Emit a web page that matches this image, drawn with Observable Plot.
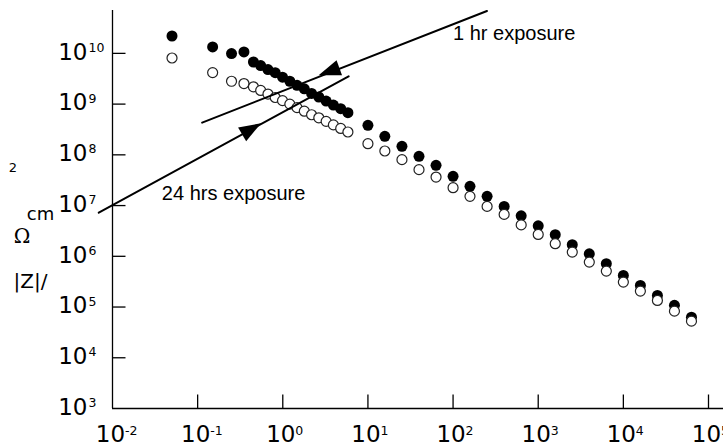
<!DOCTYPE html>
<html><head><meta charset="utf-8">
<script src="https://cdn.jsdelivr.net/npm/d3@7"></script>
<script src="https://cdn.jsdelivr.net/npm/@observablehq/plot@0.6"></script>
<style>body{margin:0;background:#fff;} svg{display:block;}</style>
</head><body><div id="chart"></div>
<script>
// Frequency (Hz)
const freq = [0.05, 0.15, 0.25, 0.35, 0.452, 0.55, 0.67, 0.815, 0.993, 1.21, 1.47, 1.79, 2.18, 2.65, 3.23, 3.93, 4.79, 5.82,
  10, 15.8, 25.1, 39.8, 63.1, 100, 158, 251, 398, 631, 1000, 1585, 2512, 3981, 6310, 10000, 15850, 25120, 39810, 63100];
// |Z| (ohm cm2), 1 hr exposure (filled)
const zFilled = [2.20e10, 1.34e10, 9.9e9, 1.07e10, 6.76e9, 5.75e9, 4.79e9, 4.17e9, 3.39e9, 2.82e9, 2.34e9, 2.00e9, 1.62e9, 1.38e9, 1.15e9, 9.55e8, 8.13e8, 6.76e8,
  3.82e8, 2.32e8, 1.47e8, 9.33e7, 6.21e7, 3.77e7, 2.39e7, 1.52e7, 9.64e6, 6.27e6, 3.98e6, 2.67e6, 1.69e6, 1.12e6, 7.14e5, 4.20e5, 2.67e5, 1.69e5, 1.08e5, 6.32e4];
// |Z| (ohm cm2), 24 hrs exposure (open)
const zOpen = [8.11e9, 4.18e9, 2.82e9, 2.54e9, 2.19e9, 1.86e9, 1.58e9, 1.35e9, 1.17e9, 1.00e9, 8.51e8, 7.24e8, 6.17e8, 5.37e8, 4.57e8, 3.89e8, 3.31e8, 2.82e8,
  1.66e8, 1.19e8, 8.04e7, 5.11e7, 3.65e7, 2.25e7, 1.52e7, 9.64e6, 6.70e6, 4.16e6, 2.70e6, 1.77e6, 1.21e6, 7.69e5, 5.11e5, 3.10e5, 2.06e5, 1.35e5, 8.30e4, 5.27e4];

const xTicks = [1e-2, 1e-1, 1e0, 1e1, 1e2, 1e3, 1e4, 1e5];
const xExp = ["-2", "-1", "0", "1", "2", "3", "4", "5"];
const yTicks = [1e3, 1e4, 1e5, 1e6, 1e7, 1e8, 1e9, 1e10];
const yExp = ["3", "4", "5", "6", "7", "8", "9", "10"];

// annotation lines (pointer lines)
const line1Hz = [0.113, 250];
const line1Z = [4.32e8, 6.85e10];
const line2Hz = [0.0069, 5.93];
const line2Z = [7.24e6, 3.53e9];
const arrowHz = [4.61, 0.333];
const arrowZ = [5.2e9, 2.54e8];
const arrowAngle = [250, 59.7];
const labels = ["1 hr exposure", "24 hrs exposure"];
const labelHz = [100, 0.038];
const labelZ = [2.49e10, 1.74e7];

const filled = freq.map((f, i) => ({f, z: zFilled[i]}));
const open = freq.map((f, i) => ({f, z: zOpen[i]}));

const tickRight = {draw(ctx) { ctx.moveTo(0, 0); ctx.lineTo(13, 0); }};
const tickUp = {draw(ctx) { ctx.moveTo(0, 0); ctx.lineTo(0, -14); }};
const arrowHead = {draw(ctx) { ctx.moveTo(0, -22); ctx.lineTo(8, 0); ctx.lineTo(-8, 0); ctx.closePath(); }};

const tickFont = "DejaVu Sans";
const chart = Plot.plot({
  width: 723, height: 446,
  marginLeft: 112, marginRight: 15, marginTop: 10, marginBottom: 38,
  x: {type: "log", domain: [1e-2, 1e5], axis: null},
  y: {type: "log", domain: [1e3, 7e10], axis: null},
  style: {background: "#fff", color: "#000", fontFamily: tickFont, overflow: "visible"},
  marks: [
    Plot.ruleX([1e-2], {stroke: "#000", strokeWidth: 1.3}),
    Plot.ruleY([1e3], {stroke: "#000", strokeWidth: 1.3, insetRight: -15}),
    Plot.dot(yTicks.slice(1), {x: () => 1e-2, y: d => d, symbol: tickRight, r: 2, fill: "none", stroke: "#000", strokeWidth: 1.3}),
    Plot.dot(xTicks.slice(1), {x: d => d, y: () => 1e3, symbol: tickUp, r: 2, fill: "none", stroke: "#000", strokeWidth: 1.3}),
    // tick labels
    Plot.text(yTicks, {frameAnchor: "left", y: d => d, text: () => "10", textAnchor: "end", lineAnchor: "middle", dx: -25, dy: -1, fontSize: 23}),
    Plot.text(yTicks, {frameAnchor: "left", y: d => d, text: (d, i) => yExp[i], textAnchor: "start", lineAnchor: "middle", dx: -24, dy: -5.5, fontSize: 12.5}),
    Plot.text(xTicks, {frameAnchor: "bottom", x: d => d, text: () => "10", textAnchor: "middle", lineAnchor: "middle", dx: -2, dy: 26.4, fontSize: 23}),
    Plot.text(xTicks, {frameAnchor: "bottom", x: d => d, text: (d, i) => xExp[i], textAnchor: "start", lineAnchor: "middle", dx: 12.5, dy: 22, fontSize: 12.5}),
    // y title pieces
    Plot.text(["2"], {frameAnchor: "top-left", text: d => d, textAnchor: "middle", lineAnchor: "middle", dx: -99.5, dy: 157.5, fontSize: 13}),
    Plot.text(["cm"], {frameAnchor: "top-left", text: d => d, textAnchor: "middle", lineAnchor: "middle", dx: -72, dy: 203.5, fontSize: 18}),
    Plot.text(["Ω"], {frameAnchor: "top-left", text: d => d, textAnchor: "middle", lineAnchor: "middle", dx: -90.5, dy: 226, fontSize: 20, fontFamily: "DejaVu Serif"}),
    Plot.text(["|Z|/"], {frameAnchor: "top-left", text: d => d, textAnchor: "middle", lineAnchor: "middle", dx: -82, dy: 271, fontSize: 20}),
    // data
    Plot.dot(filled, {x: "f", y: "z", r: 5.5, fill: "#000", stroke: "none"}),
    Plot.dot(open, {x: "f", y: "z", r: 5, fill: "#fff", stroke: "#222", strokeWidth: 1.2}),
    // pointers
    Plot.line({length: 2}, {x: line1Hz, y: line1Z, stroke: "#000", strokeWidth: 2}),
    Plot.line({length: 2}, {x: line2Hz, y: line2Z, stroke: "#000", strokeWidth: 2}),
    Plot.dot({length: 2}, {x: arrowHz, y: arrowZ, rotate: arrowAngle, symbol: arrowHead, r: 5, fill: "#000", stroke: "none"}),
    Plot.text(labels, {x: labelHz, y: labelZ, text: d => d, textAnchor: "start", fontSize: 20, fontFamily: "Liberation Sans"})
  ]
});
document.getElementById("chart").append(chart);
</script>
</body></html>
